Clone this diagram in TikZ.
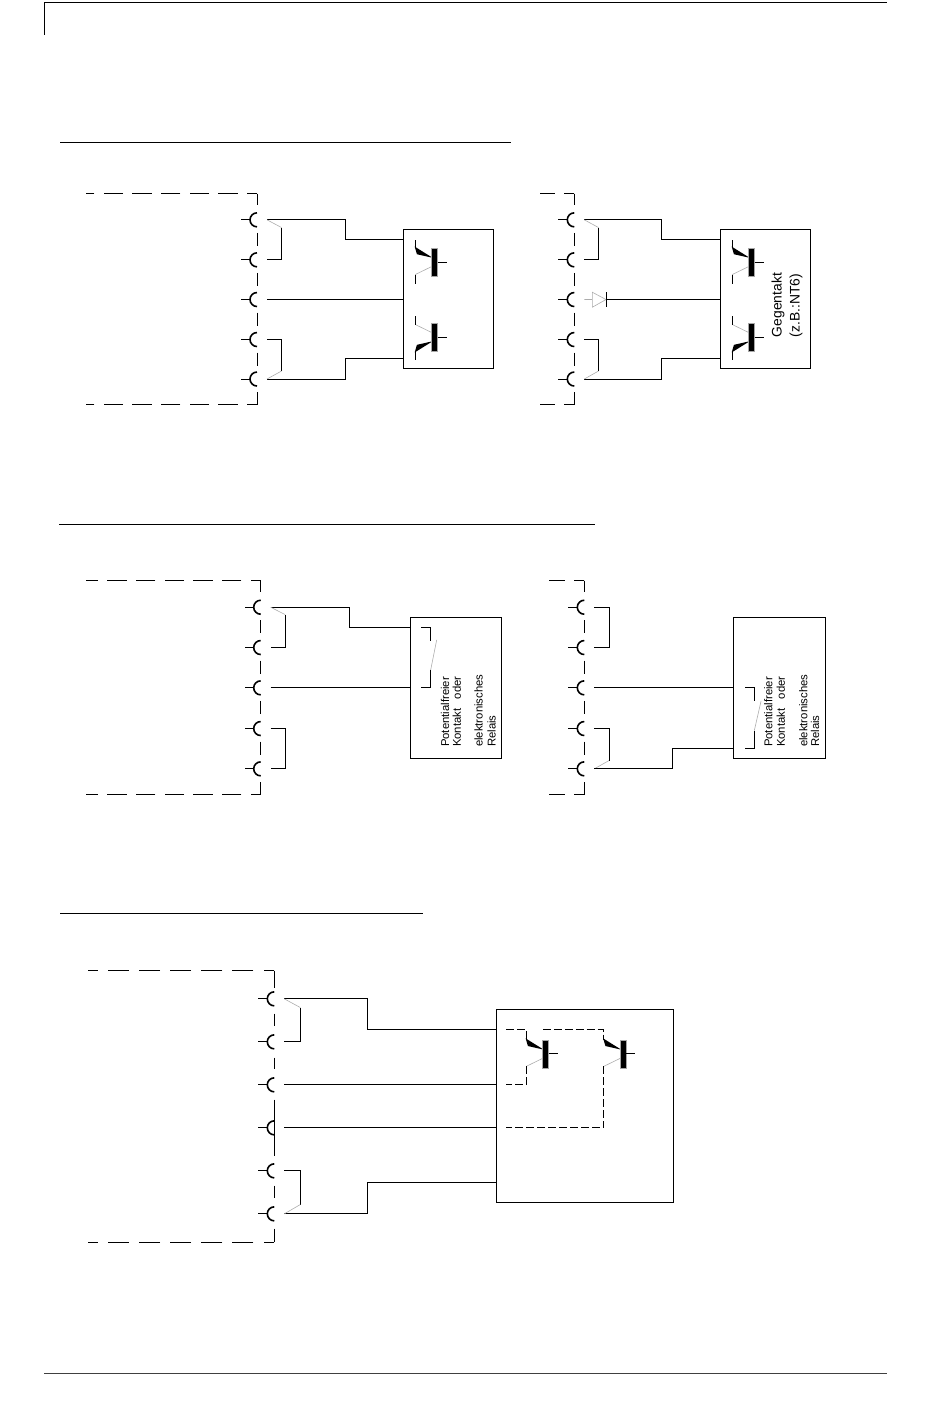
\documentclass[tikz,border=0pt]{standalone}
\usepackage{fontspec}
\setmainfont{Liberation Sans}
\tikzset{
  wire/.style={line width=0.75pt},
  thin gray/.style={line width=0.45pt,gray!65},
  rand/.style={wire,dash pattern=on 14.6pt off 6.9pt,dash phase=7pt},
  strich/.style={wire,dash pattern=on 6pt off 2.2pt},
  kasten/.style={draw,line width=0.75pt,inner sep=0pt,outer sep=0pt,anchor=north west},
  schrift/.style={rotate=90,inner sep=0pt,font=\fontsize{8.5}{10}\selectfont},
}
% one terminal: name, x of the frame, y
\newcommand\klemme[3]{
  \coordinate (#1) at (#2+10,#3);
  \draw[line width=1.2pt] (#2,#3-7) arc[start angle=90,end angle=270,radius=5.25pt];
  \draw[wire] (#2-7,#3) -- ++(-9,0);
}
% top and bottom of a frame: x left, x right, y top, y bottom
\newcommand\rahmen[4]{
  \draw[rand] (#2,#3) -- (#1,#3);
  \draw[rand] (#2,#4) -- (#1,#4);
  \draw[wire] (#2,#3) -- ++(0,11);
  \draw[wire] (#2,#4) -- ++(0,-13);
}
% one transistor without its outer leads: name, x, y, mirror
\newcommand\transistor[4]{
  \begin{scope}[shift={(#2,#3)},yscale=#4]
    \fill (-22.8,-15.4) -- (-20.6,-7.8) -- (-4.8,-4.2) -- cycle;
    \coordinate (#1e) at (-22.2,-14);
    \coordinate (#1c) at (-22.2,12.5);
    \draw[thin gray] (-5.8,4.5) -- (#1c);
    \fill[draw=gray!70,line width=0.3pt] (-6,-14) rectangle (0,14.2);
    \draw[wire] (0,0) -- (9,0);
  \end{scope}
}
\begin{document}
\begin{tikzpicture}[x=0.75pt,y=-0.75pt]
  \useasboundingbox (0,0) rectangle (950,1408);
  \begin{scope}[yshift=-0.4pt]

  % page rules
  \draw[wire] (44.3,34) -- (44.3,1.8) -- (887,1.8);
  \draw[black!75,line width=1pt] (44.3,1373) -- (887,1373);
  \draw[wire] (60,141.5) -- (511,141.5);
  \draw[wire] (59,524) -- (595,524);
  \draw[wire] (60,912.5) -- (423,912.5);

  % first row, left
  \rahmen{86}{257}{193}{404}
  \foreach \n/\y in {1/219.3,2/259.3,3/299,4/339,5/378.5} {
    \klemme{A\n}{257}{\y}
  }
  \foreach \y in {219.3,259.3,299,339} {
    \draw[wire] (257,\y+13) -- ++(0,13);
  }
  \node[kasten,minimum width=67.5pt,minimum height=104.25pt] (K1) at (403,229) {};
  \coordinate (A1s) at (345,239.3);
  \coordinate (A5s) at (345,358);
  \draw[wire] (A1) -| (A1s) -- (K1.west |- A1s);
  \draw[wire] (A3) -- (K1.west |- A3);
  \draw[wire] (A5) -| (A5s) -- (K1.west |- A5s);
  \draw[thin gray] (A1) -- (281.5,227);
  \draw[wire] (281.5,227) |- (A2);
  \draw[wire] (A4) -| (281.5,370.5);
  \draw[thin gray] (281.5,370.5) -- (A5);
  \transistor{Ta}{437.5}{261.5}{1}
  \transistor{Tb}{437.5}{336.5}{-1}
  \draw[wire] (Tae) -- ++(0,-8.5);
  \draw[wire] (Tac) -- ++(0,9);
  \draw[wire] (Tbe) -- ++(0,8.5);
  \draw[wire] (Tbc) -- ++(0,-9);

  % first row, right
  \rahmen{540}{574.3}{193}{404}
  \foreach \n/\y in {1/219.3,2/259.3,3/299,4/339,5/378.5} {
    \klemme{B\n}{574.3}{\y}
  }
  \foreach \y in {219.3,259.3,299,339} {
    \draw[wire] (574.3,\y+13) -- ++(0,13);
  }
  \node[kasten,minimum width=67.5pt,minimum height=104.25pt] (K2) at (720.3,229) {};
  \coordinate (B1s) at (661.3,239.3);
  \coordinate (B5s) at (661.3,358);
  \draw[wire] (B1) -| (B1s) -- (K2.west |- B1s);
  \draw[wire] (B5) -| (B5s) -- (K2.west |- B5s);
  \draw[thin gray] (B1) -- (598.5,227);
  \draw[wire] (598.5,227) |- (B2);
  \draw[wire] (B4) -| (598.5,370.5);
  \draw[thin gray] (598.5,370.5) -- (B5);
  % diode in the middle line
  \draw[thin gray] (B3) -- (592.3,299) (592.3,291.7) -- (606,299) -- (592.3,306.7) -- cycle;
  \draw[wire] (606,291.5) -- (606,306.8);
  \draw[wire] (606,299) -- (K2.west |- B3);
  \transistor{Tc}{754.5}{261.5}{1}
  \transistor{Td}{754.5}{336.5}{-1}
  \draw[wire] (Tce) -- ++(0,-8.5);
  \draw[wire] (Tcc) -- ++(0,9);
  \draw[wire] (Tde) -- ++(0,8.5);
  \draw[wire] (Tdc) -- ++(0,-9);
  \node[rotate=90,inner sep=0pt,font=\fontsize{10.4}{12}\selectfont] (gegen) at (778,304.5) {Gegentakt};
  \node[rotate=90,inner sep=0pt,font=\fontsize{10.4}{12}\selectfont] (nt) at (796,305) {(z.B.:NT6)};

  % second row, left
  \rahmen{86}{260.7}{580}{794}
  \foreach \n/\y in {1/606.7,2/647,3/687.3,4/728,5/768.3} {
    \klemme{C\n}{260.7}{\y}
  }
  \foreach \y in {606.7,647,687.3,728} {
    \draw[wire] (260.7,\y+13) -- ++(0,13);
  }
  \node[kasten,minimum width=68.25pt,minimum height=106.2pt] (K3) at (410.3,616.7) {};
  \coordinate (C1s) at (349.3,626.7);
  \draw[wire] (C1) -| (C1s) -- (K3.west |- C1s);
  \draw[wire] (C3) -- (K3.west |- C3);
  \draw[thin gray] (C1) -- (285,614);
  \draw[wire] (285,614) |- (C2);
  \draw[wire] (C4) -| (285,768.3) -- (C5);
  % contact
  \draw[wire] (421.3,627) -| (430.7,640);
  \draw[thin gray] (436.7,639.3) -- (430.7,669.3);
  \draw[wire] (430.7,669.3) |- (421.3,687.3);
  \node[schrift,anchor=west] (pot1) at (445,746.7) {Potentialfreier};
  \node[schrift,anchor=west] (kon1) at (456.7,746.7) {Kontakt\ \ \ oder};
  \node[schrift,anchor=west] (ele1) at (478.5,746.7) {elektronisches};
  \node[schrift,anchor=west] (rel1) at (491.5,746.7) {Relais};

  % second row, right
  \rahmen{549.3}{584.3}{580}{794}
  \foreach \n/\y in {1/606.7,2/647,3/687.3,4/728,5/768.3} {
    \klemme{D\n}{584.3}{\y}
  }
  \foreach \y in {606.7,647,687.3,728} {
    \draw[wire] (584.3,\y+13) -- ++(0,13);
  }
  \node[kasten,minimum width=68.7pt,minimum height=106.2pt] (K4) at (733.7,616.7) {};
  \coordinate (D5s) at (672.3,748.3);
  \draw[wire] (D1) -| (609,647) -- (D2);
  \draw[wire] (D3) -- (K4.west |- D3);
  \draw[wire] (D4) -| (609,760);
  \draw[thin gray] (609,760) -- (D5);
  \draw[wire] (D5) -| (D5s) -- (K4.west |- D5s);
  % contact
  \draw[wire] (745,687.3) -| (754.3,700.7);
  \draw[thin gray] (761,700.7) -- (754.3,730);
  \draw[wire] (754.3,730) |- (745,748.3);
  \node[schrift,anchor=west] (pot2) at (768.3,746.7) {Potentialfreier};
  \node[schrift,anchor=west] (kon2) at (780.7,746.7) {Kontakt\ \ \ oder};
  \node[schrift,anchor=west] (ele2) at (803.3,746.7) {elektronisches};
  \node[schrift,anchor=west] (rel2) at (815,746.7) {Relais};

  % third row
  \begin{scope}[rand/.style={wire,dash pattern=on 15.75pt off 7.6pt,dash phase=7.7pt}]
    \draw[rand] (274.3,970.3) -- (88.3,970.3);
    \draw[rand] (274.3,1241.7) -- (88.3,1241.7);
  \end{scope}
  \foreach \a/\b in {970.3/987,1013/1025,1057/1068,1099/1155,1185/1197,1228/1241.7} {
    \draw[wire] (274.3,\a) -- (274.3,\b);
  }
  \foreach \n/\y in {1/998.3,2/1041.3,3/1084.3,4/1127.3,5/1170.3,6/1213.3} {
    \klemme{E\n}{274.3}{\y}
  }
  \node[kasten,minimum width=132.75pt,minimum height=144.75pt] (K5) at (496.3,1009.3) {};
  \coordinate (E1s) at (367.3,1029.3);
  \coordinate (E6s) at (367.3,1182.3);
  \draw[wire] (E1) -| (E1s) -- (K5.west |- E1s);
  \draw[wire] (E3) -- (K5.west |- E3);
  \draw[wire] (E4) -- (K5.west |- E4);
  \draw[wire] (E6) -| (E6s) -- (K5.west |- E6s);
  \draw[thin gray] (E1) -- (300.3,1007);
  \draw[wire] (300.3,1007) |- (E2);
  \draw[wire] (E5) -| (300.3,1204);
  \draw[thin gray] (300.3,1204) -- (E6);
  \transistor{Te}{548.5}{1053.3}{1}
  \transistor{Tf}{626}{1053.3}{1}
  % dashed inner connections
  \draw[strich] (506,1029.3) -| (Tee);
  \draw[strich] (543,1029.3) -| (Tfe);
  \draw[strich] (Tec) |- (506,1084.3);
  \draw[strich] (Tfc) |- (506,1127.3);
  \end{scope}
\end{tikzpicture}
\end{document}
